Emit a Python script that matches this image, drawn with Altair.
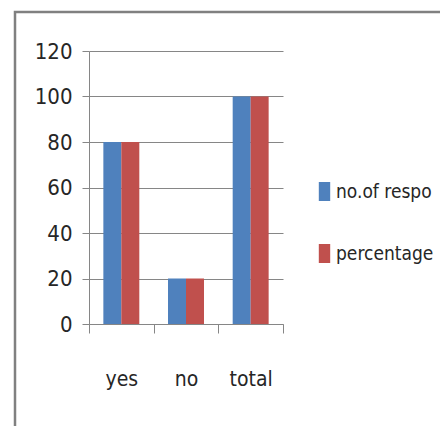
import altair as alt
import pandas as pd

# Survey answers, shown both as number of respondents and as percentage
categories = ["yes", "no", "total"]
series_names = ["no.of respo", "percentage"]
respondents = [80, 20, 100]
percentage = [80, 20, 100]
y_ticks = [0, 20, 40, 60, 80, 100, 120]

rows = []
for cat, n, p in zip(categories, respondents, percentage):
    rows.append({"answer": cat, "series": series_names[0], "value": n})
    rows.append({"answer": cat, "series": series_names[1], "value": p})
df = pd.DataFrame(rows)

FONT = "DejaVu Sans Condensed"
GRID = "#868686"
TEXT = "#262626"
W, H = 194, 273
LEFT, TOP = 89, 51

bars = alt.Chart(df).mark_bar(size=18).encode(
    x=alt.X(
        "answer:N",
        sort=categories,
        scale=alt.Scale(paddingInner=0, paddingOuter=0),
        axis=alt.Axis(
            title=None,
            labelAngle=0,
            labelFont=FONT,
            labelFontSize=21,
            labelColor=TEXT,
            labelPadding=35,
            domainColor=GRID,
            tickColor=GRID,
            tickSize=9,
            tickBand="extent",
            grid=False,
        ),
    ),
    xOffset=alt.XOffset("series:N", sort=series_names,
                        scale=alt.Scale(paddingInner=0, paddingOuter=0.8)),
    y=alt.Y(
        "value:Q",
        scale=alt.Scale(domain=[0, 120], nice=False),
        axis=alt.Axis(
            title=None,
            values=y_ticks,
            labelFont=FONT,
            labelFontSize=22,
            labelColor=TEXT,
            labelPadding=10,
            domainColor=GRID,
            tickColor=GRID,
            tickSize=7,
            gridColor=GRID,
            gridWidth=1,
        ),
    ),
    color=alt.Color(
        "series:N",
        sort=series_names,
        scale=alt.Scale(domain=series_names, range=["#4F81BD", "#C0504D"]),
        legend=alt.Legend(
            title=None,
            orient="none",
            legendX=226,
            legendY=131,
            padding=0,
            labelFont=FONT,
            labelFontSize=19,
            labelColor=TEXT,
            symbolType="M-0.6,-1H0.6V1H-0.6Z",
            symbolSize=361,
            symbolStrokeWidth=0,
            symbolOpacity=1,
            rowPadding=42,
            labelOffset=2,
        ),
    ),
)

# Gray frame around the chart
frame = alt.Chart(pd.DataFrame({"k": [0]})).mark_rect(
    fill=None, stroke="#808080", strokeWidth=2.5
).encode(
    x=alt.value(15 - LEFT),
    x2=alt.value(460 - LEFT),
    y=alt.value(12 - TOP),
    y2=alt.value(460 - TOP),
)

chart = alt.layer(frame, bars).properties(
    width=W,
    height=H,
    padding={"left": LEFT, "top": TOP, "right": 440 - LEFT - W, "bottom": 426 - TOP - H},
    autosize=alt.AutoSizeParams(type="none"),
    background="white",
).configure_view(stroke=None)

chart.save("out.html", embed_options={"renderer": "svg", "actions": False})
